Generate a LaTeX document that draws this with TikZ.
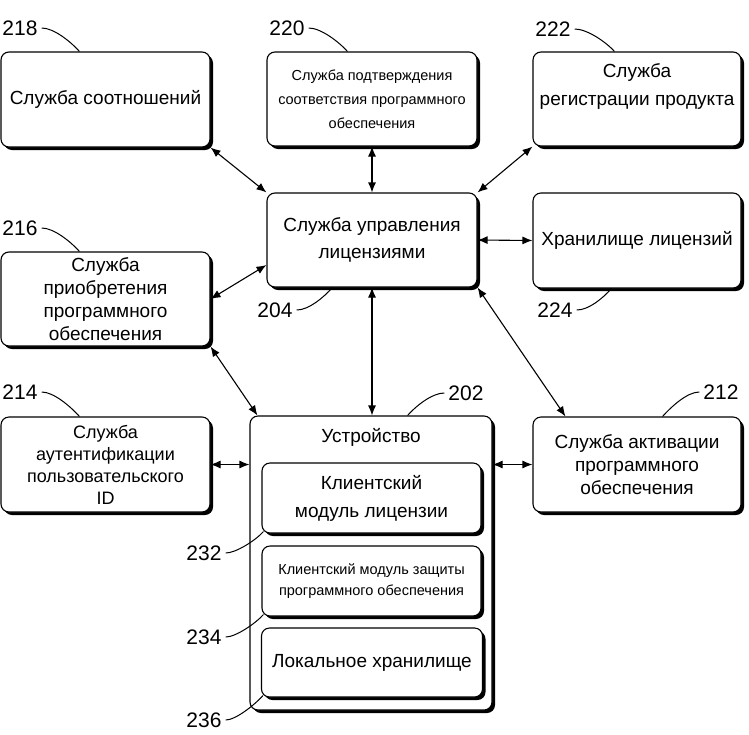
\documentclass[tikz,border=0pt]{standalone}
\usepackage{fontspec}
\setmainfont{Liberation Sans}
\usetikzlibrary{arrows.meta, shadows}

\begin{document}
\begin{tikzpicture}[x=1pt, y=-1pt,
    box/.style={draw, line width=1.1pt, rounded corners=8pt, fill=white, align=center, inner sep=2pt,
        drop shadow={shadow xshift=3pt, shadow yshift=-3pt, fill=black, opacity=1}},
    num/.style={font=\fontsize{21}{24}\selectfont, inner xsep=4pt, inner ysep=1pt},
    lead/.style={line width=1pt},
    dbl/.style={line width=1.1pt, {Latex[length=10pt,width=8pt]}-{Latex[length=10pt,width=8pt]}},
    big/.style={font=\fontsize{19}{23}\selectfont},
    small/.style={font=\fontsize{14.5}{24}\selectfont}]
    \useasboundingbox (0,0) rectangle (749,734);

    % top row
    \node[box, big, minimum width=209pt, minimum height=95pt] (srel) at (105.5,99.5) {Служба соотношений};
    \node[box, small, minimum width=210pt, minimum height=94pt] (conf) at (372,99) {Служба подтверждения\\соответствия программного\\обеспечения};
    \node[box, big, font=\fontsize{19}{28}\selectfont, minimum width=208pt, minimum height=94pt] (reg) at (637,99) {Служба\\регистрации продукта\\\mbox{}};

    % middle row
    \node[box, big, font=\fontsize{19}{27}\selectfont, minimum width=210pt, minimum height=94pt] (lic) at (372,240) {Служба управления\\лицензиями};
    \node[box, big, minimum width=208pt, minimum height=95pt] (store) at (637,240.5) {Хранилище лицензий};
    \node[box, big, minimum width=209pt, minimum height=94pt] (acq) at (105.5,299) {Служба\\приобретения\\программного\\обеспечения};

    % bottom row
    \node[box, big, font=\fontsize{18}{22}\selectfont, minimum width=209pt, minimum height=95pt] (auth) at (105.5,464.5) {Служба\\аутентификации\\пользовательского\\ID};
    \node[box, minimum width=242pt, minimum height=294pt,
        label={[big, anchor=north, yshift=-9pt]north:Устройство}] (dev) at (371,563) {};
    \node[box, big, minimum width=208pt, minimum height=95pt] (act) at (637,464.5) {Служба активации\\программного\\обеспечения};

    % parts of the device
    \node[box, big, font=\fontsize{19}{28}\selectfont, minimum width=219pt, minimum height=70pt] (clm) at (371.5,498) {Клиентский\\модуль лицензии};
    \node[box, small, font=\fontsize{14.5}{21}\selectfont, minimum width=219pt, minimum height=70pt] (cpm) at (371.5,581) {Клиентский модуль защиты\\программного обеспечения};
    \node[box, big, minimum width=221pt, minimum height=69pt] (lst) at (372,662.5) {Локальное хранилище};

    % connections
    \draw[dbl] (srel.south east) -- (lic.north west);
    \draw[dbl] (conf.south) -- (lic.north);
    \draw[dbl] (reg.south west) -- (lic.north east);
    \draw[dbl] (lic.east) -- (store.west);
    \draw[dbl] (acq.east) -- ([yshift=-25pt]lic.west);
    \draw[dbl] (acq.south east) -- ([xshift=8pt]dev.north west);
    \draw[dbl] (lic.south) -- (lic.south |- dev.north);
    \draw[dbl] (lic.south east) -- ([xshift=33pt]act.north west);
    \draw[dbl] (auth.east) -- (auth.east -| dev.west);
    \draw[dbl] (dev.east |- act.west) -- (act.west);

    % reference numbers
    \node[num] (n218) at (20,28) {218};
    \node[num] (n220) at (287,28) {220};
    \node[num] (n222) at (553,29) {222};
    \node[num] (n216) at (20,228) {216};
    \node[num] (n204) at (275,310) {204};
    \node[num] (n224) at (555,310) {224};
    \node[num] (n214) at (20,392) {214};
    \node[num] (n202) at (466,393) {202};
    \node[num] (n212) at (721,392) {212};
    \node[num] (n232) at (204,553) {232};
    \node[num] (n234) at (204,637) {234};
    \node[num] (n236) at (204,720) {236};

    \draw[lead] (n218.east) .. controls +(12,0) and +(-9,-10) .. ([xshift=79pt]srel.north west);
    \draw[lead] (n220.east) .. controls +(12,0) and +(-9,-10) .. ([xshift=81pt]conf.north west);
    \draw[lead] (n222.east) .. controls +(12,0) and +(-9,-10) .. ([xshift=82pt]reg.north west);
    \draw[lead] (n216.east) .. controls +(12,0) and +(-9,-10) .. ([xshift=79pt]acq.north west);
    \draw[lead] (n214.east) .. controls +(12,0) and +(-9,-10) .. ([xshift=79pt]auth.north west);
    \draw[lead] (n204.east) .. controls +(12,0) and +(-9,10) .. ([xshift=66pt]lic.south west);
    \draw[lead] (n224.east) .. controls +(12,0) and +(-9,10) .. ([xshift=79pt]store.south west);
    \draw[lead] (n202.west) .. controls +(-12,0) and +(9,-10) .. ([xshift=-85pt]dev.north east);
    \draw[lead] (n212.west) .. controls +(-12,0) and +(9,-10) .. ([xshift=-79pt]act.north east);
    \draw[lead] (n232.east) .. controls +(10,0) and +(-8,9) .. ([shift={(2pt,2pt)}]clm.south west);
    \draw[lead] (n234.east) .. controls +(10,0) and +(-8,9) .. ([shift={(2pt,2pt)}]cpm.south west);
    \draw[lead] (n236.east) .. controls +(10,0) and +(-8,9) .. ([shift={(2pt,2pt)}]lst.south west);
\end{tikzpicture}
\end{document}
